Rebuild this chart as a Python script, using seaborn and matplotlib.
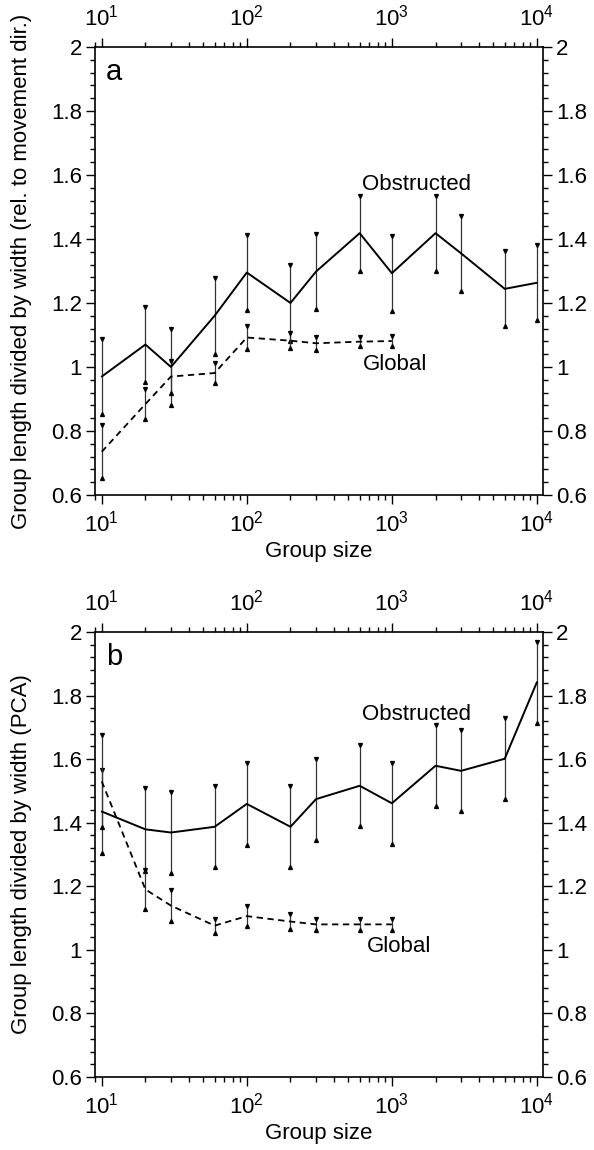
import numpy as np
import pandas as pd
import matplotlib
matplotlib.use("Agg")
import matplotlib.pyplot as plt
import seaborn as sns
from matplotlib.ticker import MultipleLocator, LogLocator, LogFormatterSciNotation, NullFormatter, FuncFormatter

# group sizes used in the simulations
sizes_obs = [10, 20, 30, 60, 100, 200, 300, 600, 1000, 2000, 3000, 6000, 10000]
sizes_glob = [10, 20, 30, 60, 100, 200, 300, 600, 1000]

# panel a: elongation relative to movement direction
obs_a = [0.97, 1.07, 1.00, 1.16, 1.295, 1.20, 1.298, 1.418, 1.293, 1.418, 1.355, 1.244, 1.263]
obs_a_err = [0.117, 0.118, 0.118, 0.118, 0.117, 0.118, 0.117, 0.117, 0.117, 0.117, 0.117, 0.117, 0.117]
glob_a = [0.735, 0.884, 0.97, 0.981, 1.092, 1.082, 1.074, 1.079, 1.081]
glob_a_err = [0.083, 0.046, 0.05, 0.031, 0.035, 0.023, 0.02, 0.015, 0.015]

# panel b: elongation from PCA
obs_b = [1.435, 1.379, 1.369, 1.387, 1.459, 1.387, 1.474, 1.516, 1.461, 1.579, 1.563, 1.601, 1.842]
obs_b_err = [0.13, 0.13, 0.127, 0.128, 0.128, 0.127, 0.127, 0.127, 0.127, 0.128, 0.127, 0.128, 0.127]
glob_b = [1.53, 1.19, 1.139, 1.076, 1.106, 1.089, 1.08, 1.08, 1.08]
glob_b_err = [0.145, 0.062, 0.048, 0.022, 0.031, 0.024, 0.018, 0.017, 0.017]

sns.set_style("ticks")
plt.rcParams["font.family"] = ["Liberation Sans", "DejaVu Sans"]
plt.rcParams["mathtext.fontset"] = "custom"
plt.rcParams["mathtext.rm"] = "Liberation Sans"
plt.rcParams["mathtext.it"] = "Liberation Sans:italic"
plt.rcParams["axes.linewidth"] = 1.2
plt.rcParams["text.color"] = "black"
plt.rcParams["axes.labelcolor"] = "black"
plt.rcParams["xtick.color"] = "black"
plt.rcParams["ytick.color"] = "black"


def draw_errs(ax, x, y, err):
    x = np.array(x)
    lo = np.array(y) - np.array(err)
    hi = np.array(y) + np.array(err)
    ax.vlines(x, lo, hi, color="#333333", linewidth=0.9)
    ax.plot(x, hi, linestyle="none", marker="v", markersize=2.8, color="black")
    ax.plot(x, lo, linestyle="none", marker="^", markersize=2.8, color="black")


def draw_panel(ax, obs, obs_err, glob, glob_err, letter, ylabel, obs_pos, glob_pos):
    df_obs = pd.DataFrame({"size": sizes_obs, "ratio": obs})
    df_glob = pd.DataFrame({"size": sizes_glob, "ratio": glob})

    draw_errs(ax, sizes_obs, obs, obs_err)
    draw_errs(ax, sizes_glob, glob, glob_err)
    sns.lineplot(data=df_obs, x="size", y="ratio", ax=ax, color="black", linewidth=1.4)
    sns.lineplot(data=df_glob, x="size", y="ratio", ax=ax, color="black", linewidth=1.3,
                 linestyle=(0, (3.5, 2.5)))

    ax.set_xscale("log")
    ax.set_xlim(8.99, 11000)
    ax.set_ylim(0.6, 2)

    ax.xaxis.set_major_locator(LogLocator(base=10, numticks=10))
    ax.xaxis.set_minor_locator(LogLocator(base=10, subs=np.arange(2, 10), numticks=20))
    ax.xaxis.set_major_formatter(LogFormatterSciNotation())
    ax.xaxis.set_minor_formatter(NullFormatter())
    ax.yaxis.set_major_locator(MultipleLocator(0.2))
    ax.yaxis.set_minor_locator(MultipleLocator(0.04))
    ax.yaxis.set_major_formatter(FuncFormatter(lambda v, p: "%g" % round(v, 2)))

    ax.tick_params(which="both", direction="out", top=True, right=True,
                   labeltop=True, labelright=True, width=1.0, color="black")
    ax.tick_params(which="major", length=6.5, labelsize=16, pad=3)
    ax.tick_params(axis="x", which="major", pad=5)
    ax.tick_params(which="minor", length=3.5)
    for s in ax.spines.values():
        s.set_visible(True)
        s.set_color("black")

    ax.set_xlabel("Group size", fontsize=16, labelpad=3)
    ax.set_ylabel(ylabel, fontsize=16)
    ax.yaxis.set_label_coords(-0.14, 0.5)

    ax.text(0.025, 0.975, letter, transform=ax.transAxes, fontsize=21, ha="left", va="top")
    ax.text(obs_pos[0], obs_pos[1], "Obstructed", fontsize=16, ha="left", va="baseline")
    ax.text(glob_pos[0], glob_pos[1], "Global", fontsize=16, ha="left", va="baseline")


fig = plt.figure(figsize=(5.94, 11.5), dpi=100)
ax_a = fig.add_axes([0.160, 0.5696, 0.754, 0.3896])
ax_b = fig.add_axes([0.160, 0.0635, 0.754, 0.387])

draw_panel(ax_a, obs_a, obs_a_err, glob_a, glob_a_err, "a",
           "Group length divided by width (rel. to movement dir.)", (621, 1.553), (634, 0.991))
draw_panel(ax_b, obs_b, obs_b_err, glob_b, glob_b_err, "b",
           "Group length divided by width (PCA)", (621, 1.723), (672, 0.994))

fig.savefig("out.png", dpi=100, facecolor="white")
